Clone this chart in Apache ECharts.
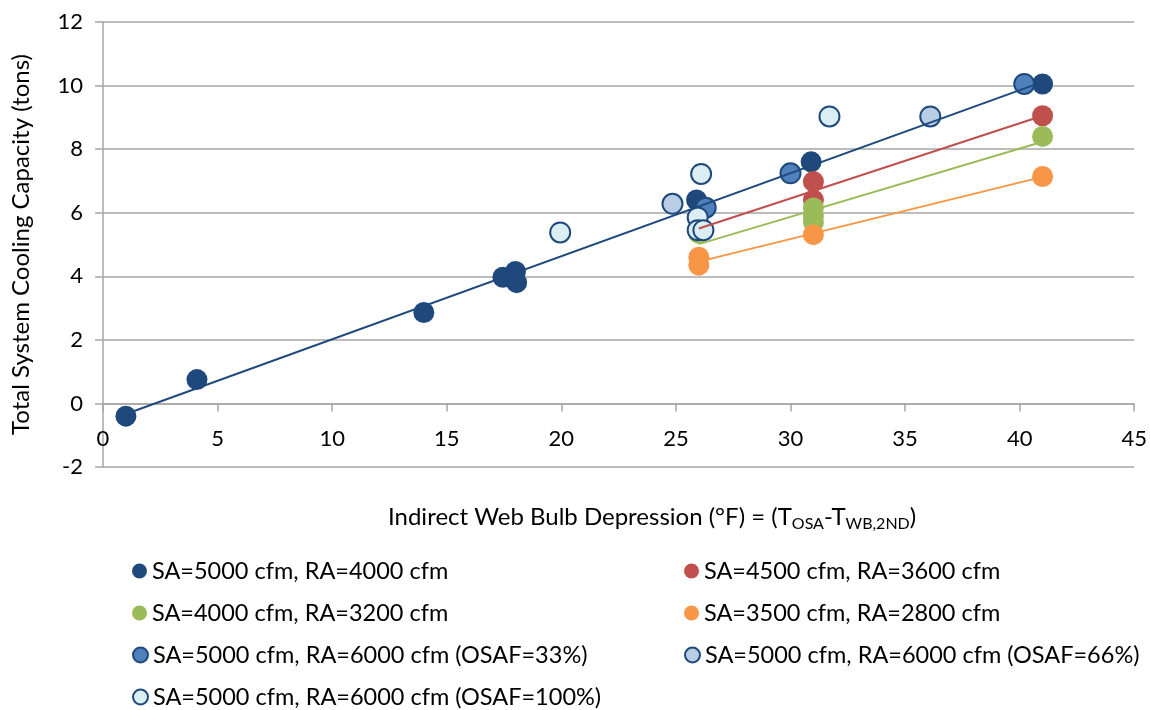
<!DOCTYPE html>
<html>
<head>
<meta charset="utf-8">
<script src="https://cdn.jsdelivr.net/npm/echarts@6/dist/echarts.min.js"></script>
<style>
html,body{margin:0;padding:0;background:#fff;}
#chart{width:1150px;height:710px;}
</style>
</head>
<body>
<div id="chart"></div>
<script>
// ---- Data ----
const seriesNames = [
  'SA=5000 cfm, RA=4000 cfm',
  'SA=4500 cfm, RA=3600 cfm',
  'SA=4000 cfm, RA=3200 cfm',
  'SA=3500 cfm, RA=2800 cfm',
  'SA=5000 cfm, RA=6000 cfm (OSAF=33%)',
  'SA=5000 cfm, RA=6000 cfm (OSAF=66%)',
  'SA=5000 cfm, RA=6000 cfm (OSAF=100%)'
];
const sa5000X = [1.0, 4.1, 14.0, 17.45, 18.0, 18.05, 25.9, 30.9, 41.0];
const sa5000Y = [-0.4, 0.75, 2.86, 3.97, 4.15, 3.8, 6.4, 7.6, 10.05];
const sa4500X = [26, 31, 31, 41];
const sa4500Y = [5.5, 6.98, 6.4, 9.05];
const sa4000X = [26, 31, 31, 31, 41];
const sa4000Y = [5.35, 6.15, 5.9, 5.7, 8.4];
const sa3500X = [26, 26, 31, 41];
const sa3500Y = [4.6, 4.35, 5.31, 7.14];
const osaf33X = [26.3, 30.0, 40.2];
const osaf33Y = [6.16, 7.24, 10.05];
const osaf66X = [24.85, 36.1];
const osaf66Y = [6.28, 9.03];
const osaf100X = [19.95, 26.1, 25.95, 25.95, 26.2, 31.7];
const osaf100Y = [5.38, 7.22, 5.85, 5.45, 5.45, 9.03];
const xTicks = [0, 5, 10, 15, 20, 25, 30, 35, 40, 45];
const yTicks = [-2, 0, 2, 4, 6, 8, 10, 12];

// ---- Styles ----
const FONT = 'Lato';
const colors = ['#1F497D', '#C0504D', '#9BBB59', '#F79646', '#4F81BD', '#B9CDE5', '#DBEEF4'];
const borderColor = '#1F497D';
const xs = [sa5000X, sa4500X, sa4000X, sa3500X, osaf33X, osaf66X, osaf100X];
const ys = [sa5000Y, sa4500Y, sa4000Y, sa3500Y, osaf33Y, osaf66Y, osaf100Y];

function pairs(x, y) { return x.map((v, i) => [v, y[i]]); }
function fit(x, y) {
  const n = x.length;
  const mx = x.reduce((a, b) => a + b, 0) / n;
  const my = y.reduce((a, b) => a + b, 0) / n;
  let sxy = 0, sxx = 0;
  for (let i = 0; i < n; i++) { sxy += (x[i] - mx) * (y[i] - my); sxx += (x[i] - mx) ** 2; }
  const b = sxy / sxx, a = my - b * mx;
  const x0 = Math.min(...x), x1 = Math.max(...x);
  return [[x0, a + b * x0], [x1, a + b * x1]];
}

const series = [];
seriesNames.forEach((name, i) => {
  const bordered = i >= 4;
  series.push({
    name: name,
    type: 'scatter',
    data: pairs(xs[i], ys[i]),
    symbol: 'circle',
    symbolSize: bordered ? 20 : 21,
    itemStyle: {
      color: colors[i],
      borderColor: bordered ? borderColor : colors[i],
      borderWidth: bordered ? 2 : 0,
      opacity: 1
    },
    z: 2
  });
});
// Linear trendlines for the first four series
for (let i = 0; i < 4; i++) {
  series.push({
    name: 'trend' + i,
    type: 'line',
    data: fit(xs[i], ys[i]),
    symbol: 'none',
    lineStyle: { color: colors[i], width: 2 },
    silent: true,
    z: 5
  });
}

// Legend layout: two columns, one legend per entry
const legendCols = [132, 132, 132, 132, 684, 684, 684];
const legendRows = [571, 613, 655, 697, 571, 613, 655];
const legendOrder = [0, 2, 4, 6, 1, 3, 5];
const legends = legendOrder.map((si, k) => ({
  orient: 'horizontal',
  left: legendCols[k],
  top: legendRows[k] - 12,
  padding: 0,
  itemWidth: 15,
  itemHeight: 15,
  itemGap: 5,
  icon: 'circle',
  selectedMode: false,
  data: [seriesNames[si]],
  textStyle: { fontFamily: FONT, fontSize: 23.5, lineHeight: 24, color: '#000' }
}));

const option = {
  animation: false,
  backgroundColor: '#fff',
  textStyle: { fontFamily: FONT },
  grid: { left: 103, right: 15, top: 22, bottom: 243 },
  title: {
    text: 'Indirect Web Bulb Depression (°F) = (T{sub|OSA}-T{sub|WB,2ND})',
    left: 388,
    top: 502,
    padding: 0,
    textStyle: {
      fontFamily: FONT, fontSize: 24, fontWeight: 'normal', color: '#000',
      rich: {
        sub: { fontFamily: FONT, fontSize: 16, color: '#000', padding: [14, 0, 0, 0] }
      }
    }
  },
  legend: legends,
  xAxis: {
    type: 'value',
    min: xTicks[0],
    max: xTicks[xTicks.length - 1],
    interval: 5,
    axisLine: { show: true, onZero: true, lineStyle: { color: '#A6A6A6', width: 1.5 } },
    axisTick: { show: true, length: 8, lineStyle: { color: '#A6A6A6', width: 1.5 } },
    axisLabel: { margin: -39, fontFamily: FONT, fontSize: 22, color: '#000' },
    splitLine: { show: false }
  },
  yAxis: {
    type: 'value',
    min: yTicks[0],
    max: yTicks[yTicks.length - 1],
    interval: 2,
    name: 'Total System Cooling Capacity (tons)',
    nameLocation: 'middle',
    nameGap: 70,
    nameTextStyle: { fontFamily: FONT, fontSize: 24, color: '#000' },
    axisLine: { show: true, onZero: false, lineStyle: { color: '#A6A6A6', width: 1.5 } },
    axisTick: { show: true, length: 8, lineStyle: { color: '#A6A6A6', width: 1.5 } },
    axisLabel: { margin: 20, fontFamily: FONT, fontSize: 22, color: '#000' },
    splitLine: { show: true, lineStyle: { color: '#A6A6A6', width: 1.5 } }
  },
  series: series
};

const chart = echarts.init(document.getElementById('chart'), null, { renderer: 'canvas' });
chart.setOption(option);
</script>
</body>
</html>
